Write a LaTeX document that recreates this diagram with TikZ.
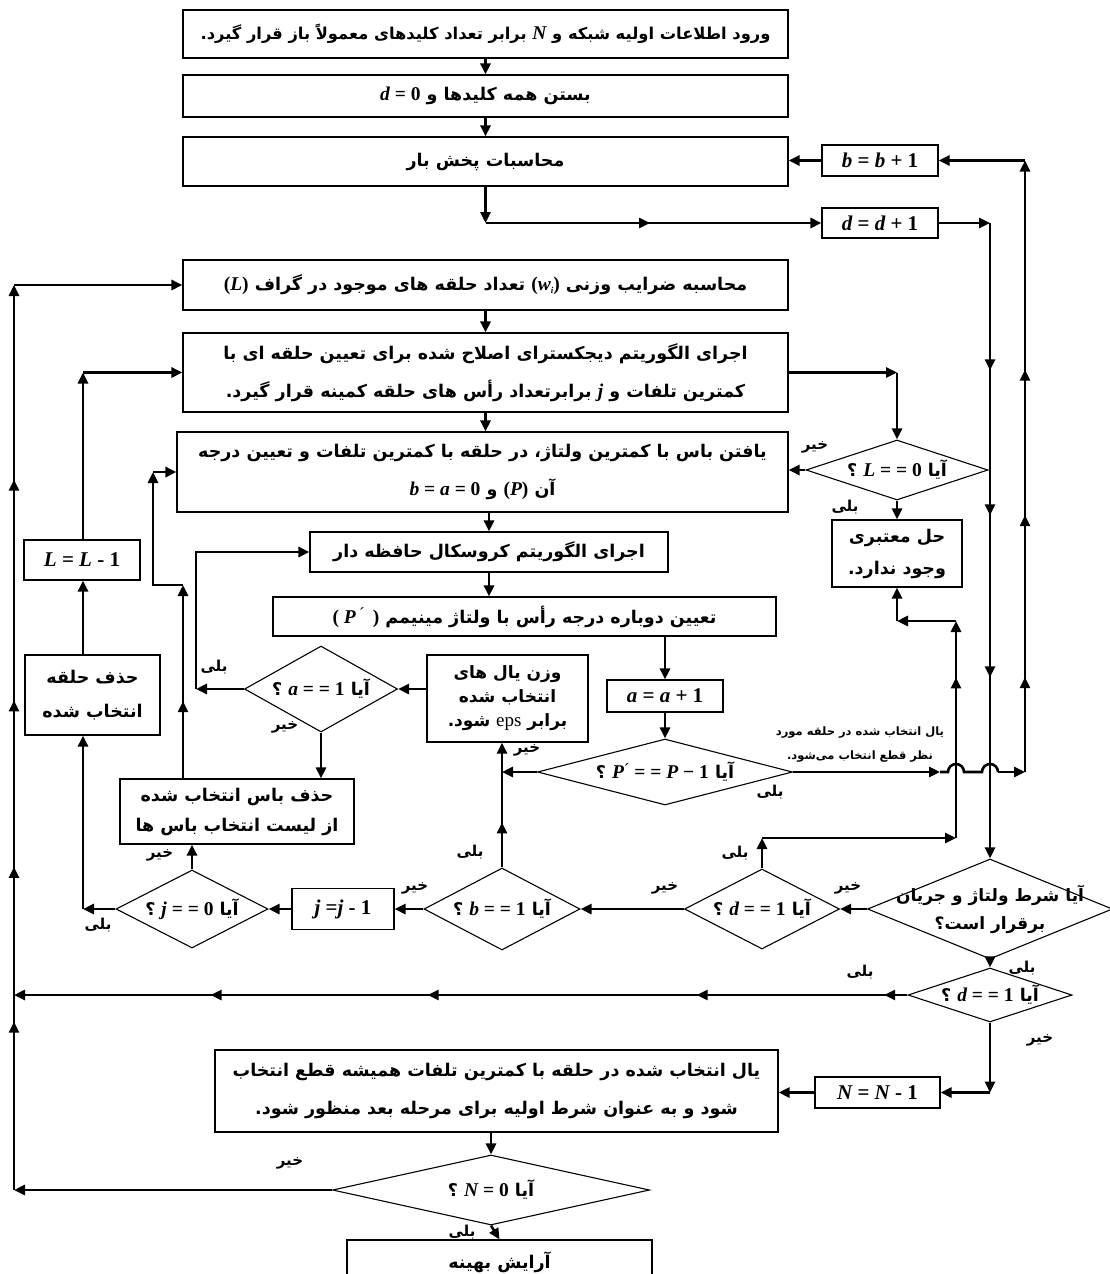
\documentclass[tikz,border=0pt]{standalone}
\usepackage{fontspec}
\usetikzlibrary{arrows, arrows.meta, shapes.geometric, decorations.markings}
\newfontfamily\fafont[Script=Arabic]{DejaVu Sans}
\newfontfamily\latfont{Liberation Serif}
\TeXXeTstate=1
\newcommand{\rl}[1]{\beginR #1\endR}
\newcommand{\lr}[1]{\beginL #1\endL}
\newcommand{\eqn}[1]{\lr{{\latfont\bfseries\fontsize{19.5}{24}\selectfont #1}}}
\newcommand{\beqn}[1]{\lr{{\latfont\bfseries\fontsize{21}{24}\selectfont #1}}}
\newcommand{\vi}[1]{{\itshape #1}}
\newcommand{\pr}{\raisebox{0.35ex}{\fontsize{17}{17}\selectfont\mdseries ´}}
\newcommand{\pfont}[2]{\fafont\bfseries\fontsize{#1}{#2}\selectfont}

\tikzset{
  box/.style={draw, rectangle, line width=1.1pt, inner sep=1pt, align=center},
  cond/.style={draw, diamond, line width=1.1pt, inner sep=0pt},
  txt/.style={inner sep=0pt, align=center},
  lbl/.style={inner sep=0pt, font=\pfont{15}{16}},
  arr/.style={line width=2.6pt, >={Triangle[length=11pt,width=10pt]}, ->},
  m/.style={postaction={decorate, decoration={markings,
      mark=at position #1 with {\arrow{Triangle[length=11pt,width=10pt]}}}}}
}

\begin{document}
\begin{tikzpicture}[x=1pt, y=-1pt, font=\pfont{17.5}{34}]
 \useasboundingbox (0,0) rectangle (1110,1274);
 \clip (0,0) rectangle (1110,1274);

 % buses
 \coordinate (xl) at (14,0);
 \coordinate (xL) at (83,0);
 \coordinate (xb) at (183,0);
 \coordinate (xc) at (196,0);
 \coordinate (xe) at (990,0);
 \coordinate (xf) at (1025,0);
 \coordinate (kink) at (153,585);
 \coordinate (lp) at (956,838);
 \coordinate (np) at (956,621);

 % boxes
 \node[box, minimum width=605pt, minimum height=48pt, font=\pfont{16.3}{34}] (init) at (485.5,34)
   {\rl{ورود اطلاعات اولیه شبکه و \eqn{\vi{N}} برابر تعداد کلیدهای معمولاً باز قرار گیرد.}};
 \node[box, minimum width=605pt, minimum height=42pt] (close) at (485.5,96)
   {\rl{بستن همه کلیدها و \eqn{\vi{d} = 0}}};
 \node[box, minimum width=605pt, minimum height=49pt] (loadflow) at (485.5,161.5)
   {\rl{محاسبات پخش بار}};
 \node[box, minimum width=116pt, minimum height=31pt] (binc) at (880,160.5) {\beqn{\vi{b} = \vi{b} + 1}};
 \node[box, minimum width=116pt, minimum height=30pt] (dinc) at (880,223) {\beqn{\vi{d} = \vi{d} + 1}};
 \node[box, minimum width=605pt, minimum height=50pt] (weights) at (485.5,285)
   {\rl{محاسبه ضرایب وزنی \eqn{(\vi{w}\raisebox{-0.35ex}{\small\vi{i}})} تعداد حلقه های موجود در گراف \eqn{(\vi{L})}}};
 \node[box, minimum width=605pt, minimum height=79pt, font=\pfont{17.5}{38}] (dijk) at (485.5,372.5)
   {\rl{اجرای الگوریتم دیجکسترای اصلاح شده برای تعیین حلقه ای با}\\
    \rl{کمترین تلفات و \eqn{\vi{j}} برابرتعداد رأس های حلقه کمینه قرار گیرد.}};
 \node[box, minimum width=611pt, minimum height=80pt, font=\pfont{17.5}{38}] (minbus) at (482.5,472)
   {\rl{یافتن باس با کمترین ولتاژ، در حلقه با کمترین تلفات و تعیین درجه}\\
    \rl{آن \eqn{(\vi{P})} و \eqn{\vi{b} = \vi{a} = 0}}};
 \node[box, minimum width=130pt, minimum height=67pt, font=\pfont{17.5}{32}] (nosol) at (897,553.5)
   {\rl{حل معتبری}\\\rl{وجود ندارد.}};
 \node[box, minimum width=358pt, minimum height=40pt] (krus) at (489,552)
   {\rl{اجرای الگوریتم کروسکال حافظه دار}};
 \node[box, minimum width=503pt, minimum height=39pt] (reas) at (524.5,616.5)
   {\rl{تعیین دوباره درجه رأس با ولتاژ مینیمم \eqn{( \vi{P}\,\pr\, )}}};
 \node[box, minimum width=116pt, minimum height=40pt] (Ldec) at (82,560) {\beqn{\vi{L} = \vi{L} - 1}};
 \node[box, minimum width=135pt, minimum height=80pt, font=\pfont{17.5}{34}] (delloop) at (92.5,695)
   {\rl{حذف حلقه}\\\rl{انتخاب شده}};
 \node[box, minimum width=161pt, minimum height=87pt, font=\pfont{17}{24}] (wgt) at (507.5,698.5)
   {\rl{وزن یال های}\\\rl{انتخاب شده}\\\rl{برابر \lr{{\latfont\mdseries\fontsize{19}{24}\selectfont eps}} شود.}};
 \node[box, minimum width=116pt, minimum height=32pt] (ainc) at (665,696) {\beqn{\vi{a} = \vi{a} + 1}};
 \node[box, minimum width=234pt, minimum height=65pt, font=\pfont{17.5}{30}] (delbus) at (237,811.5)
   {\rl{حذف باس انتخاب شده}\\\rl{از لیست انتخاب باس ها}};
 \node[box, minimum width=102pt, minimum height=41pt] (jdec) at (343,909) {\beqn{\vi{j} =\vi{j} - 1}};
 \node[box, minimum width=125pt, minimum height=31pt] (Ndec) at (877.5,1092.5) {\beqn{\vi{N} = \vi{N} - 1}};
 \node[box, minimum width=563pt, minimum height=82pt, font=\pfont{17.5}{38}] (cut) at (496.5,1091)
   {\rl{یال انتخاب شده در حلقه با کمترین تلفات همیشه قطع انتخاب}\\
    \rl{شود و به عنوان شرط اولیه برای مرحله بعد منظور شود.}};
 \node[box, minimum width=305pt, minimum height=44pt] (final) at (499.5,1262)
   {\rl{آرایش بهینه}};

 % decisions
 \node[cond, minimum width=182pt, minimum height=60pt] (Ldia) at (897,470) {};
 \node[txt] (Ldiat) at (Ldia) {\rl{آیا \eqn{\vi{L} = = 0} ؟}};
 \node[cond, minimum width=153pt, minimum height=86pt] (adia) at (321,689) {};
 \node[txt] (adiat) at (adia) {\rl{آیا \eqn{\vi{a} = = 1} ؟}};
 \node[cond, minimum width=255pt, minimum height=66pt] (Pdia) at (665,772) {};
 \node[txt] (Pdiat) at (Pdia) {\rl{آیا \eqn{\vi{P}\pr\ = = \vi{P} − 1} ؟}};
 \node[cond, minimum width=245pt, minimum height=100pt] (bigdia) at (990,909) {};
 \node[txt, font=\pfont{17}{28}] (bigdiat) at (bigdia) {\rl{آیا شرط ولتاژ و جریان}\\\rl{برقرار است؟}};
 \node[cond, minimum width=155pt, minimum height=80pt] (d1dia) at (762,909) {};
 \node[txt] (d1diat) at (d1dia) {\rl{آیا \eqn{\vi{d} = = 1} ؟}};
 \node[cond, minimum width=156pt, minimum height=82pt] (bdia) at (502,909) {};
 \node[txt] (bdiat) at (bdia) {\rl{آیا \eqn{\vi{b} = = 1} ؟}};
 \node[cond, minimum width=152pt, minimum height=78pt] (jdia) at (192,909) {};
 \node[txt] (jdiat) at (jdia) {\rl{آیا \eqn{\vi{j} = = 0} ؟}};
 \node[cond, minimum width=164pt, minimum height=54pt] (d2dia) at (990,995) {};
 \node[txt] (d2diat) at (d2dia) {\rl{آیا \eqn{\vi{d} = = 1} ؟}};
 \node[cond, minimum width=317pt, minimum height=70pt] (Ndia) at (491,1190) {};
 \node[txt] (Ndiat) at (Ndia) {\rl{آیا \eqn{\vi{N} = 0} ؟}};

 % labels
 \node[lbl] (no1) at (815,447) {\rl{خیر}};
 \node[lbl] (yes1) at (845,507) {\rl{بلی}};
 \node[lbl] (yes2) at (214,667) {\rl{بلی}};
 \node[lbl] (no2) at (285,727) {\rl{خیر}};
 \node[lbl] (no3) at (527,750) {\rl{خیر}};
 \node[lbl] (yes3) at (770,792) {\rl{بلی}};
 \node[lbl] (no4) at (160,855) {\rl{خیر}};
 \node[lbl] (yes4) at (98,925) {\rl{بلی}};
 \node[lbl] (no5) at (415,888) {\rl{خیر}};
 \node[lbl] (yes5) at (470,852) {\rl{بلی}};
 \node[lbl] (no6) at (665,888) {\rl{خیر}};
 \node[lbl] (yes6) at (735,853) {\rl{بلی}};
 \node[lbl] (no7) at (848,888) {\rl{خیر}};
 \node[lbl] (yes7) at (1022,968) {\rl{بلی}};
 \node[lbl] (yes8) at (860,972) {\rl{بلی}};
 \node[lbl] (no8) at (1040,1040) {\rl{خیر}};
 \node[lbl] (no9) at (290,1163) {\rl{خیر}};
 \node[lbl] (yes9) at (462,1232) {\rl{بلی}};
 \node[txt, font=\pfont{11.5}{24}] (note) at (860,745)
   {\rl{یال انتخاب شده در حلقه مورد}\\\rl{نظر قطع انتخاب می‌شود.}};

 % main spine
 \draw[arr] (init.south) -- (close.north);
 \draw[arr] (close.south) -- (loadflow.north);
 \draw[arr] (loadflow.south) -- (loadflow.south |- dinc.west);
 \draw[arr, m=0.49] (loadflow.south |- dinc.west) -- (dinc.west);
 \draw[arr] (dinc.east) -- (xe |- dinc.east);
 \draw[arr, m=0.232, m=0.46, m=0.715] (xe |- dinc.east) -- (bigdia.north);
 \draw[arr] (binc.west) -- (binc.west -| loadflow.east);
 \draw[arr] (weights.south) -- (dijk.north);
 \draw[arr] (dijk.south) -- (dijk.south |- minbus.north);
 \draw[arr] (krus.north |- minbus.south) -- (krus.north);
 \draw[arr] (krus.south) -- (krus.south |- reas.north);
 \draw[arr] (ainc.north |- reas.south) -- (ainc.north);
 \draw[arr] (ainc.south) -- (Pdia.north);

 % loop test
 \draw[arr] (dijk.east) -- (Ldia.north |- dijk.east);
 \draw[arr] (Ldia.north |- dijk.east) -- (Ldia.north);
 \draw[arr] (Ldia.west) -- (Ldia.west -| minbus.east);
 \draw[arr] (Ldia.south) -- (nosol.north);

 % P' test and hops
 \draw[arr] (Pdia.east) -- ([xshift=-16pt]Pdia.east -| lp);
 \draw[line width=2.6pt] ([xshift=-16pt]Pdia.east -| lp) -- ([xshift=-8pt]Pdia.east -| lp)
   arc[start angle=180, end angle=0, radius=8pt] -- ([xshift=-8pt]Pdia.east -| xe)
   arc[start angle=180, end angle=0, radius=8pt] -- ([xshift=8pt]Pdia.east -| xe);
 \draw[arr] ([xshift=8pt]Pdia.east -| xe) -- (xf |- Pdia.east);
 \draw[arr, m=0.155, m=0.42, m=0.658] (xf |- Pdia.east) -- (xf |- binc.east);
 \draw[arr] (xf |- binc.east) -- (binc.east);
 \draw[arr] (Pdia.west) -- (Pdia.west -| bdia.north);

 % a test
 \draw[arr, m=0.36] (bdia.north) -- (bdia.north |- wgt.south);
 \draw[arr] (wgt.west |- adia.east) -- (adia.east);
 \draw[arr] (adia.west) -- (xc |- adia.west);
 \draw[arr] (xc |- adia.west) |- (krus.west);
 \draw[arr] (adia.south) -- (adia.south |- delbus.north);
 \draw[arr, m=0.4] (xb |- delbus.north) -- (xb |- kink);
 \draw[arr] (xb |- kink) -- (kink) -- (kink |- minbus.west);
 \draw[arr] (kink |- minbus.west) -- (minbus.west);

 % j test and loop removal
 \draw[arr] (jdia.north) -- (jdia.north |- delbus.south);
 \draw[arr] (jdia.west) -- (xL |- jdia.west);
 \draw[arr] (xL |- jdia.west) -- (xL |- delloop.south);
 \draw[arr] (xL |- delloop.north) -- (xL |- Ldec.south);
 \draw[arr] (xL |- Ldec.north) -- (xL |- dijk.west);
 \draw[arr] (xL |- dijk.west) -- (dijk.west);
 \draw[arr] (bdia.west) -- (jdec.east);
 \draw[arr] (jdec.west) -- (jdia.east);
 \draw[arr] (d1dia.west) -- (bdia.east);
 \draw[arr] (bigdia.west) -- (d1dia.east);
 \draw[arr] (d1dia.north) -- (d1dia.north |- lp);
 \draw[arr] (d1dia.north |- lp) -- (lp);
 \draw[arr, m=0.74] (lp) -- (np);
 \draw[arr] (np) -- (np -| nosol.south);
 \draw[arr] (np -| nosol.south) -- (nosol.south);

 % lower part
 \draw[arr] (bigdia.south) -- (d2dia.north);
 \draw[arr, m=0.026, m=0.236, m=0.537, m=0.78] (d2dia.west) -- (xl |- d2dia.west);
 \draw[arr] (d2dia.south) -- (xe |- Ndec.east);
 \draw[arr] (xe |- Ndec.east) -- (Ndec.east);
 \draw[arr] (Ndec.west) -- (Ndec.west -| cut.east);
 \draw[arr] (Ndia.north |- cut.south) -- (Ndia.north);
 \draw[arr] (Ndia.west) -- (xl |- Ndia.west);
 \draw[arr, m=0.186, m=0.357, m=0.541, m=0.785] (xl |- Ndia.west) -- (xl |- weights.west);
 \draw[arr] (xl |- weights.west) -- (weights.west);
 \draw[arr] (Ndia.south) -- (final.north);
\end{tikzpicture}
\end{document}
